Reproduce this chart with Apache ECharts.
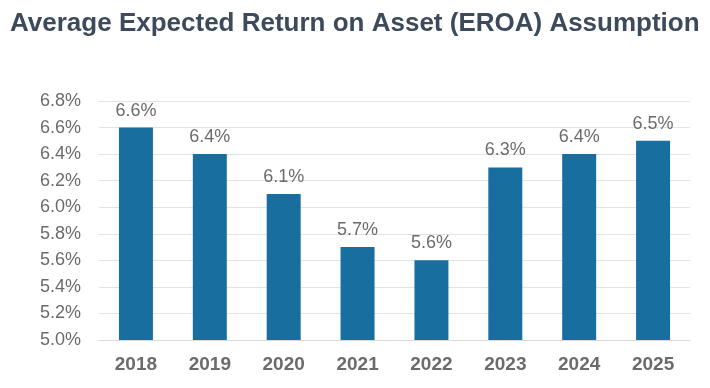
<!DOCTYPE html>
<html><head><meta charset="utf-8">
<script src="https://cdn.jsdelivr.net/npm/echarts@6/dist/echarts.min.js"></script>
<style>html,body{margin:0;padding:0;background:#fff}#c{width:710px;height:388px}</style>
</head><body><div id="c"></div>
<script>
const categories = ['2018','2019','2020','2021','2022','2023','2024','2025'];
const values = [6.6, 6.4, 6.1, 5.7, 5.6, 6.3, 6.4, 6.5];
const titleText = 'Average Expected Return on Asset (EROA) Assumption';
const chart = echarts.init(document.getElementById('c'));
chart.setOption({
  animation: false,
  title: {
    text: titleText, left: 5, top: 6,
    textStyle: {fontFamily: '"Liberation Sans", Arial', fontWeight: 'bold', fontSize: 26, color: '#3d4a5b'}
  },
  grid: {left: 99, right: 20, top: 101, bottom: 48},
  xAxis: {
    type: 'category', data: categories,
    axisLine: {lineStyle: {color: '#d9d9d9', width: 1}},
    axisTick: {show: false},
    axisLabel: {color: '#6b6b6b', fontSize: 19, fontWeight: 'bold', fontFamily: '"Liberation Sans", Arial', margin: 15}
  },
  yAxis: {
    type: 'value', min: 5.0, max: 6.8, interval: 0.2,
    axisLine: {show: false}, axisTick: {show: false},
    splitLine: {lineStyle: {color: '#e3e3e3', width: 1}},
    axisLabel: {color: '#6b6b6b', fontSize: 18, fontFamily: '"Liberation Sans", Arial', margin: 18,
      formatter: v => v.toFixed(1) + '%'}
  },
  series: [{
    type: 'bar', data: values, barWidth: '46%',
    itemStyle: {color: '#176e9f'},
    label: {show: true, position: 'top', distance: 8, color: '#6b6b6b', fontSize: 18,
      fontFamily: '"Liberation Sans", Arial', formatter: p => p.value.toFixed(1) + '%'}
  }]
});
</script></body></html>
